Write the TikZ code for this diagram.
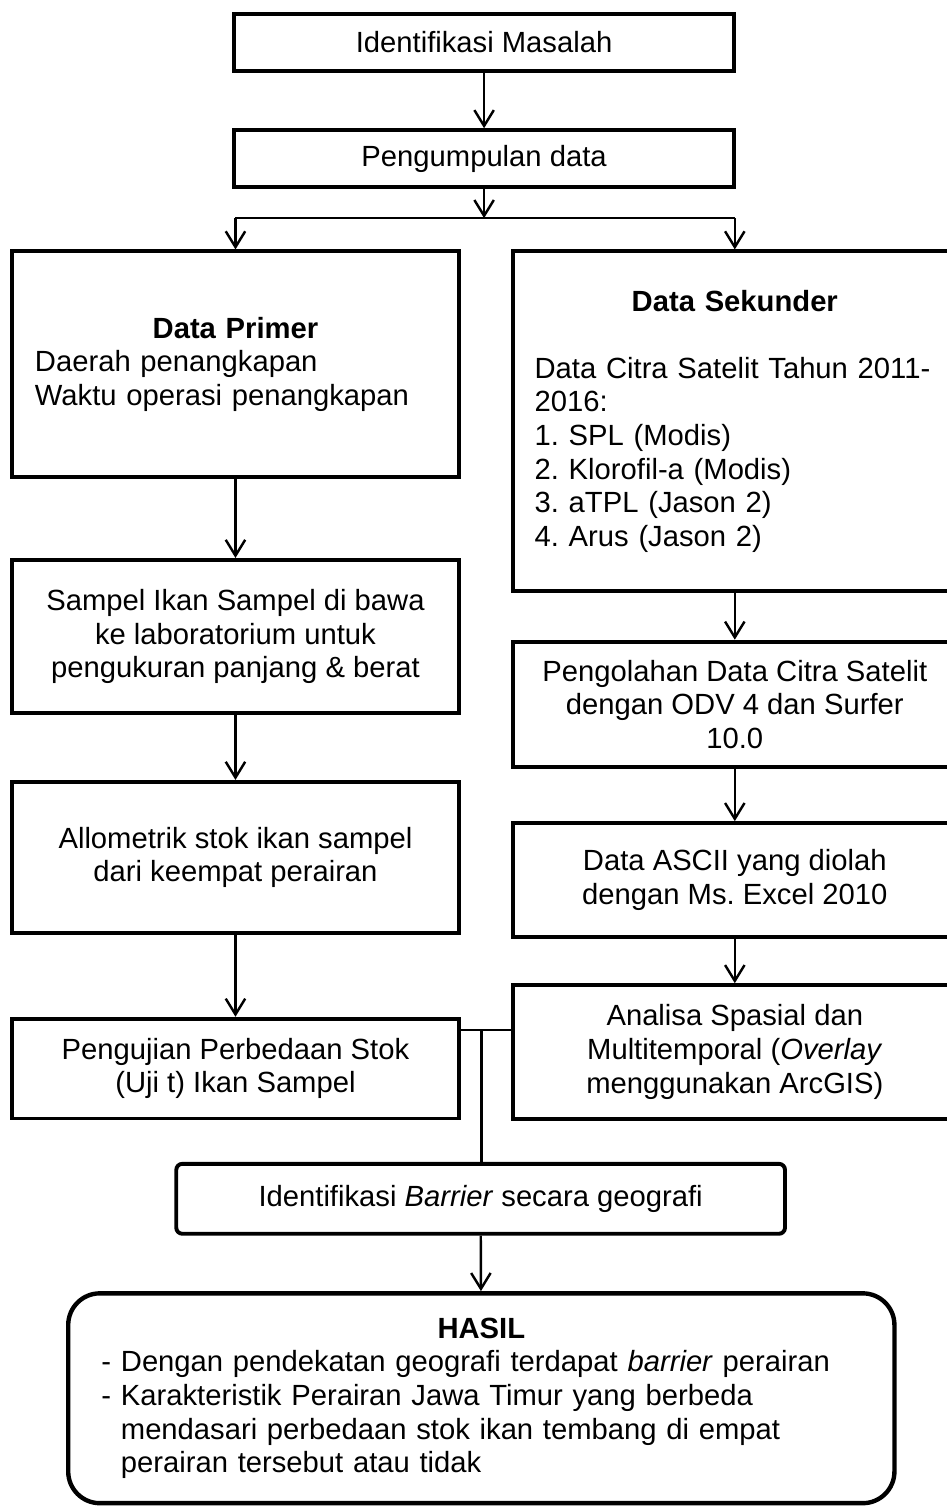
\documentclass[tikz,border=0pt]{standalone}
\usepackage{fontspec}
\setmainfont{Liberation Sans}
\usetikzlibrary{arrows.meta,positioning,calc}
\definecolor{fcink}{HTML}{000000}
\tikzset{
  % the plain process boxes
  fc box/.style={
    draw=fcink, line width=1.6pt, rectangle, align=center,
    inner sep=0pt, text=fcink,
    font=\fontsize{12}{13.8}\selectfont\frenchspacing,
  },
  % the identification step, only slightly rounded
  fc round/.style={
    fc box, rounded corners=2.5pt,
  },
  % the final outcome
  fc result/.style={
    fc box, line width=1.8pt, rounded corners=13pt,
  },
  % open-headed flow arrows
  fc arrow/.style={
    draw=fcink, line width=1pt,
    -{Straight Barb[length=6.5pt,width=8pt]},
  },
  fc line/.style={draw=fcink, line width=1pt},
}

\begin{document}
\begin{tikzpicture}[x=1cm,y=1cm]
  \useasboundingbox (0,0) rectangle (13.67,21.76);

  % ---- start ---------------------------------------------------------------
  \node[fc box,minimum width=7.22cm,minimum height=0.82cm] (masalah) at (6.99,21.15)
    {Identifikasi Masalah};
  \node[fc box,minimum width=7.22cm,minimum height=0.82cm] (kumpul) at (6.99,19.47)
    {Pengumpulan data};
  \coordinate (fork) at (6.99,18.61);

  % ---- primary data, left column -------------------------------------------
  \node[fc box,minimum width=6.45cm,minimum height=3.26cm,
        text width=5.79cm,align=left] (primer) at (3.40,16.50)
    {\makebox[\linewidth]{\textbf{Data Primer}}\\
     Daerah penangkapan\\
     Waktu operasi penangkapan};
  \node[fc box,minimum width=6.45cm,minimum height=2.21cm] (sampel) at (3.40,12.57)
    {Sampel Ikan Sampel di bawa\\ke laboratorium untuk\\pengukuran panjang \& berat};
  \node[fc box,minimum width=6.45cm,minimum height=2.18cm] (allo) at (3.40,9.38)
    {Allometrik stok ikan sampel\\dari keempat perairan};
  \node[fc box,minimum width=6.45cm,minimum height=1.44cm] (uji) at (3.40,6.33)
    {Pengujian Perbedaan Stok\\(Uji t) Ikan Sampel};

  % ---- secondary data, right column ----------------------------------------
  \node[fc box,minimum width=6.41cm,minimum height=4.90cm,
        text width=5.78cm,align=left] (sekunder) at (10.61,15.68)
    {\makebox[\linewidth]{\textbf{Data Sekunder}}\\[13.8pt]
     Data Citra Satelit Tahun 2011-\\
     2016:\\
     1. SPL (Modis)\\
     2. Klorofil-a (Modis)\\
     3. aTPL (Jason 2)\\
     4. Arus (Jason 2)};
  \node[fc box,minimum width=6.41cm,minimum height=1.81cm] (olah) at (10.61,11.59)
    {Pengolahan Data Citra Satelit\\dengan ODV 4 dan Surfer\\10.0};
  \node[fc box,minimum width=6.41cm,minimum height=1.65cm] (ascii) at (10.61,9.05)
    {Data ASCII yang diolah\\dengan Ms. Excel 2010};
  \node[fc box,minimum width=6.41cm,minimum height=1.93cm] (spasial) at (10.61,6.57)
    {Analisa Spasial dan\\Multitemporal (\textit{Overlay}\\menggunakan ArcGIS)};
  \coordinate (join) at (6.95,6.89);

  % ---- merge and outcome ---------------------------------------------------
  \node[fc round,minimum width=8.79cm,minimum height=1.01cm] (barrier) at (6.94,4.45)
    {Identifikasi \textit{Barrier} secara geografi};
  \node[fc result,minimum width=11.93cm,minimum height=3.03cm,
        text width=10.97cm,align=left] (hasil) at (6.95,1.57)
    {\makebox[\linewidth]{\textbf{HASIL}}\\
     - Dengan pendekatan geografi terdapat \textit{barrier} perairan\\
     - Karakteristik Perairan Jawa Timur yang berbeda\\
     \phantom{- }mendasari perbedaan stok ikan tembang di empat\\
     \phantom{- }perairan tersebut atau tidak};

  % ---- connectors ----------------------------------------------------------
  \draw[fc arrow] (masalah) -- (kumpul);
  \draw[fc arrow] (kumpul) -- (fork);
  \coordinate (forkL) at (fork -| primer);
  \coordinate (forkR) at (fork -| sekunder);
  \draw[fc line] (forkL) -- (forkR);
  \draw[fc arrow] (forkL) -- (primer);
  \draw[fc arrow] (forkR) -- (sekunder);

  \draw[fc arrow] (primer) -- (sampel);
  \draw[fc arrow] (sampel) -- (allo);
  \draw[fc arrow] (allo) -- (uji);

  \draw[fc arrow] (sekunder) -- (olah);
  \draw[fc arrow] (olah) -- (ascii);
  \draw[fc arrow] (ascii) -- (spasial);

  \draw[fc line] (uji.east |- join) -- (spasial.west |- join);
  \draw[fc line] (join) -- (join |- barrier.north);
  \draw[fc arrow] (barrier) -- (hasil);

\end{tikzpicture}
\end{document}
